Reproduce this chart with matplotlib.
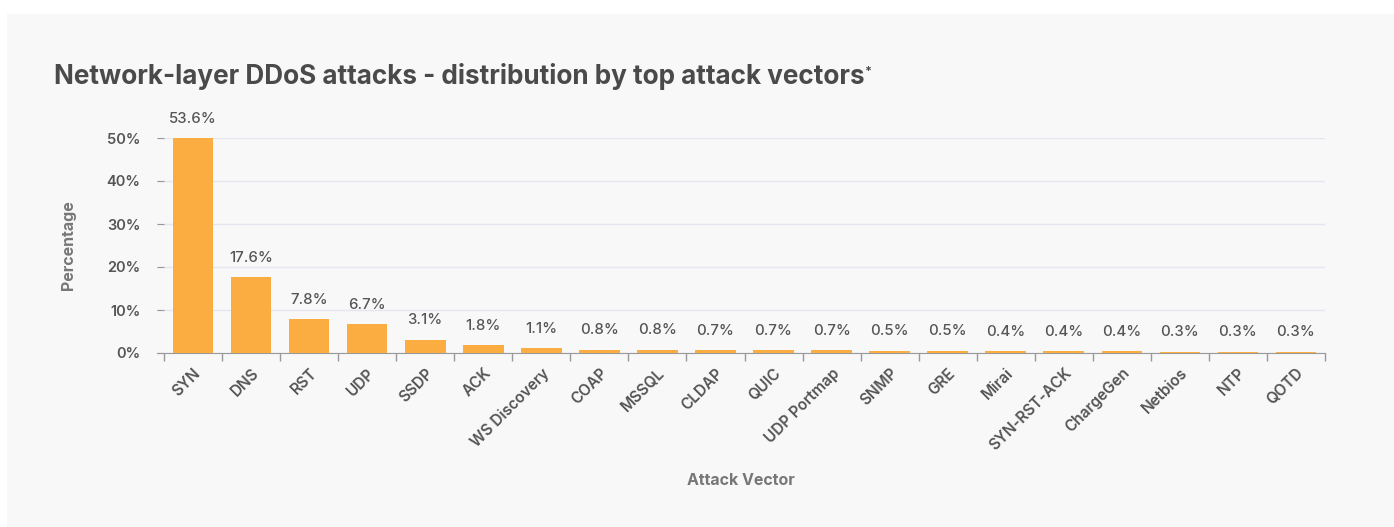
import matplotlib.pyplot as plt
from matplotlib.patches import Rectangle
from matplotlib.ticker import FixedLocator, FuncFormatter

plt.rcParams['font.family'] = ['Inter', 'DejaVu Sans']

vectors = ['SYN', 'DNS', 'RST', 'UDP', 'SSDP', 'ACK', 'WS Discovery', 'COAP', 'MSSQL',
           'CLDAP', 'QUIC', 'UDP Portmap', 'SNMP', 'GRE', 'Mirai', 'SYN-RST-ACK',
           'ChargeGen', 'Netbios', 'NTP', 'QOTD']
shares = [53.6, 17.6, 7.8, 6.7, 3.1, 1.8, 1.1, 0.8, 0.8, 0.7, 0.7, 0.7, 0.5, 0.5,
          0.4, 0.4, 0.4, 0.3, 0.3, 0.3]
y_ticks = [0, 10, 20, 30, 40, 50]
y_max = 50

bar_color = '#fbad41'
text_color = '#555555'
label_color = '#777777'

fig = plt.figure(figsize=(13.94, 5.27), dpi=100)
fig.patch.set_facecolor('white')
# light gray card behind the chart
fig.patches.append(Rectangle((7 / 1394, 0), 1 - 7 / 1394, 1 - 14 / 527,
                             transform=fig.transFigure, facecolor='#f8f8f8',
                             edgecolor='none', zorder=-10))

ax = fig.add_axes([157 / 1394, 174 / 527, (1325 - 157) / 1394, 215 / 527])
ax.set_facecolor('none')

x = list(range(len(vectors)))
shown = [min(v, y_max) for v in shares]
ax.bar(x, shown, width=0.7, color=bar_color, zorder=3)

for xi, v, h in zip(x, shares, shown):
    ax.annotate(f'{v}%', (xi, h), xytext=(0, 14), textcoords='offset points',
                ha='center', va='center', fontsize=10.8, fontweight='medium',
                color=text_color)

ax.set_xlim(-0.5 - 7 / 58, len(vectors) - 0.5)
ax.set_ylim(0, y_max)

ax.set_yticks(y_ticks)
ax.yaxis.set_major_formatter(FuncFormatter(lambda v, p: f'{v:.0f}%'))
ax.tick_params(axis='y', direction='in', length=5, color='#999999', pad=12,
               labelsize=10.5, labelcolor=text_color)
for lbl in ax.get_yticklabels():
    lbl.set_fontweight('semibold')
ax.grid(axis='y', color='#e4e6f0', linewidth=1, zorder=0)

ax.set_xticks(x)
ax.set_xticklabels(vectors, rotation=45, ha='right', rotation_mode='anchor',
                   fontsize=11, fontweight='semibold', color=text_color)
ax.tick_params(axis='x', which='major', length=0, pad=9)
ax.xaxis.set_minor_locator(FixedLocator([i - 0.5 for i in range(len(vectors) + 1)]))
ax.tick_params(axis='x', which='minor', length=6, color='#999999', width=1)

for side in ['top', 'right', 'left']:
    ax.spines[side].set_visible(False)
ax.spines['bottom'].set_color('#999999')

ax.set_ylabel('Percentage', fontsize=11.5, fontweight='bold', color=label_color,
              labelpad=22)
ax.set_xlabel('Attack Vector', fontsize=11.5, fontweight='bold', color=label_color,
              labelpad=14)

title = fig.text(54 / 1394, 1 - 77 / 527,
                 'Network-layer DDoS attacks - distribution by top attack vectors',
                 fontsize=18.8, fontweight='bold', color='#4a4a4a', va='center')
renderer = fig.canvas.get_renderer()
bb = title.get_window_extent(renderer)
fig.text(bb.x1 / fig.bbox.width + 0.0005, bb.y1 / fig.bbox.height - 0.004, '*',
         fontsize=9, fontweight='bold', color='#4a4a4a', va='top')

fig.savefig('out.png', dpi=100, facecolor=fig.get_facecolor())
